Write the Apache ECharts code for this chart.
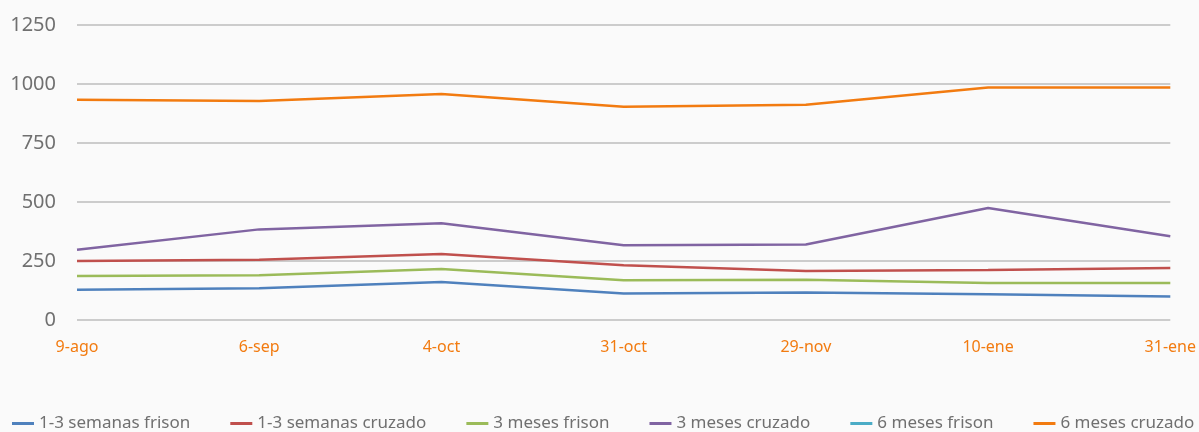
<!DOCTYPE html>
<html>
<head>
<meta charset="utf-8">
<script src="https://cdn.jsdelivr.net/npm/echarts@6/dist/echarts.min.js"></script>
<style>
html,body{margin:0;padding:0;background:#fafafa;}
#chart{width:1199px;height:432px;}
</style>
</head>
<body>
<div id="chart"></div>
<script>
const categories = ['9-ago','6-sep','4-oct','31-oct','29-nov','10-ene','31-ene'];
const seriesNames = ['1-3 semanas frison','1-3 semanas cruzado','3 meses frison','3 meses cruzado','6 meses frison','6 meses cruzado'];
const semanasFrison  = [128, 135, 161, 112, 116, 109, 100];
const semanasCruzado = [250, 255, 280, 232, 208, 212, 220];
const tresFrison     = [186, 190, 216, 168, 171, 157, 157];
const tresCruzado    = [298, 384, 410, 317, 320, 475, 355];
const seisFrison     = [null, null, null, null, null, null, null];
const seisCruzado    = [933, 928, 958, 904, 912, 985, 985];
const colors = ['#4f81bd','#c0504d','#9bbb59','#8064a2','#4bacc6','#f27b10'];

const dataSets = [semanasFrison, semanasCruzado, tresFrison, tresCruzado, seisFrison, seisCruzado];
const chart = echarts.init(document.getElementById('chart'));
chart.setOption({
  backgroundColor: '#fafafa',
  animation: false,
  color: colors,
  textStyle: { fontFamily: 'Noto Sans' },
  grid: { left: 77, right: 14, top: 25, bottom: 112, containLabel: false },
  legend: {
    bottom: 0, left: 12, width: 1187, padding: 0,
    itemWidth: 22, itemHeight: 3, itemGap: 40,
    icon: 'rect',
    textStyle: { color: '#707070', fontSize: 17, fontFamily: 'Noto Sans' },
    data: seriesNames
  },
  xAxis: {
    type: 'category',
    data: categories,
    boundaryGap: false,
    axisLine: { show: false },
    axisTick: { show: false },
    axisLabel: { color: '#f27b10', fontSize: 16, margin: 19, fontFamily: 'Noto Sans' },
    splitLine: { show: false }
  },
  yAxis: {
    type: 'value',
    min: 0, max: 1250, interval: 250,
    axisLine: { show: false },
    axisTick: { show: false },
    axisLabel: { color: '#707070', fontSize: 20, margin: 21, fontFamily: 'Noto Sans', formatter: v => String(v) },
    splitLine: { lineStyle: { color: '#bdbdbd', width: 1.5 } }
  },
  series: seriesNames.map((n, i) => ({
    name: n,
    type: 'line',
    data: dataSets[i],
    symbol: 'none',
    lineStyle: { width: 2.5, color: colors[i] },
    itemStyle: { color: colors[i] }
  }))
});
</script>
</body>
</html>
